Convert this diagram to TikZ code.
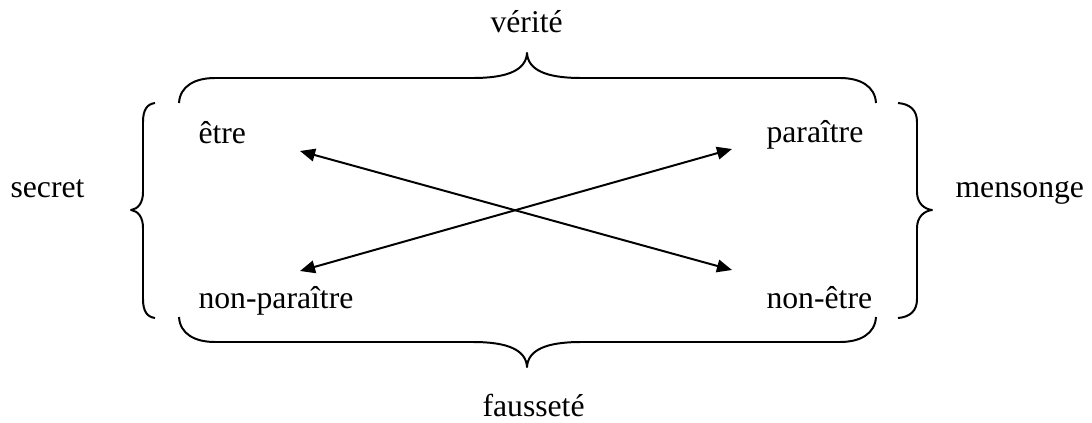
\documentclass[tikz,border=0pt]{standalone}
\usepackage{fontspec}
\setmainfont{Liberation Serif}
\usetikzlibrary{arrows.meta}

\tikzset{
	word/.style={anchor=base west, inner sep=0pt, font=\fontsize{12}{14}\selectfont},
	tip/.style={{Triangle[length=5.7pt,width=4.8pt]}-{Triangle[length=5.7pt,width=4.8pt]}, line width=0.75pt},
	curly/.style={line width=0.75pt, line join=round}
}

\begin{document}
\begin{tikzpicture}[x=0.3786pt, y=-0.3786pt]
			\useasboundingbox (0,0) rectangle (1092,423);
			% the four terms
			\node	(etre) at (198,143) [word] {être};
			\node	(para) at (766,142) [word] {paraître};
			\node	(npara) at (198,308) [word] {non-paraître};
			\node	(netre) at (766,308) [word] {non-être};
			% the four readings
			\node	(verite) at (490,33) [word] {vérité};
			\node	(faus) at (482,416) [word] {fausseté};
			\node	(secret) at (10,197) [word] {secret};
			\node	(mens) at (955,197) [word] {mensonge};
			\coordinate (e1) at (300,151);
			\coordinate (e2) at (732,270);
			\coordinate (p1) at (732,149);
			\coordinate (p2) at (300,271);
			\draw 
			(e1) edge[tip] (e2) 
			(p2) edge[tip] (p1)
			;
			% braces
			\draw[curly] (179,103) .. controls (180,86) and (195,78) .. (215,78) -- (473,78)
				.. controls (508,78) and (526,70) .. (527,53)
				.. controls (528,70) and (546,78) .. (581,78) -- (840,78)
				.. controls (860,78) and (875,86) .. (876,103);
			\draw[curly] (179,317) .. controls (180,334) and (195,342) .. (215,342) -- (473,342)
				.. controls (508,342) and (526,350) .. (527,367)
				.. controls (528,350) and (546,342) .. (581,342) -- (840,342)
				.. controls (860,342) and (875,334) .. (876,317);
			\draw[curly] (155,103) .. controls (147,104) and (143,110) .. (143,122) -- (143,192)
				.. controls (143,203) and (138,209) .. (131,210)
				.. controls (138,211) and (143,217) .. (143,228) -- (143,299)
				.. controls (143,311) and (147,317) .. (155,318);
			\draw[curly] (898,103) .. controls (910,104) and (917,110) .. (917,122) -- (917,192)
				.. controls (917,203) and (924,209) .. (932,210)
				.. controls (924,211) and (917,217) .. (917,228) -- (917,299)
				.. controls (917,311) and (910,317) .. (898,318);
		\end{tikzpicture}
\end{document}
